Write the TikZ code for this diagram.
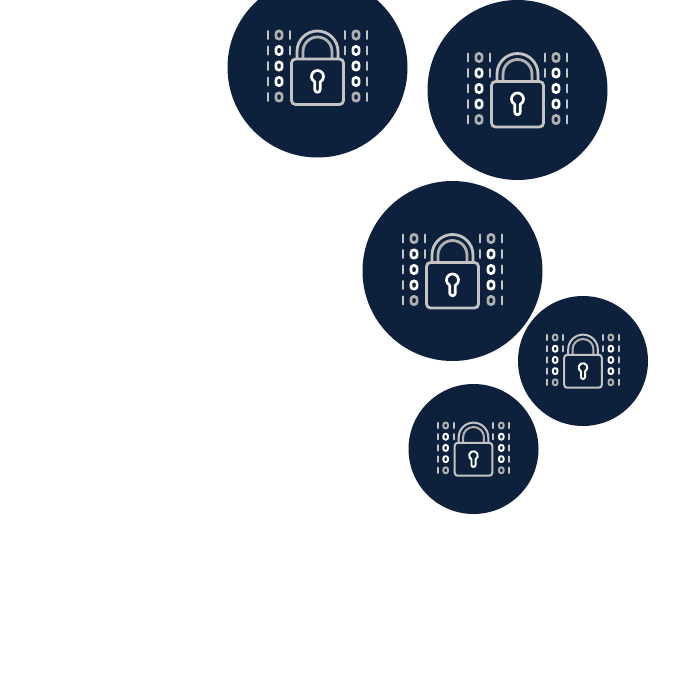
\documentclass[tikz,border=0pt]{standalone}
\definecolor{navy}{HTML}{0D213D}
\definecolor{lockgray}{HTML}{C4C4C4}
\definecolor{ringgray}{HTML}{B0B0B0}
\tikzset{
  bitbar/.style={color=lockgray,line cap=round},
}
\begin{document}
\begin{tikzpicture}[x=1pt,y=-1pt]
  \useasboundingbox (0,0) rectangle (675,675);
  \clip (0,0) rectangle (675,675);

  \foreach \cx/\cy/\r in {317.5/67.5/90, 517.5/90/90, 452.5/271/90, 583/361/65, 473.5/449/65} {
    \pgfmathsetmacro{\s}{\r/90}
    \pgfmathsetmacro{\lw}{\s*2.8}
    \pgfmathsetmacro{\bw}{\s*2.85}
    \pgfmathsetmacro{\zw}{\s*2.7}
    \pgfmathsetmacro{\rc}{\s*2.8}
    \pgfmathsetmacro{\rb}{\s*4}
    \fill[color=navy] (\cx,\cy) circle (\r);
    \begin{scope}[shift={(\cx,\cy)},scale=\s,line width=\lw pt]
      % bars at the sides
      \foreach \y in {-32.5,-17,-1.5,14,29.5} {
        \draw[bitbar,line width=\bw pt] (-49.5,\y-3.7) -- (-49.5,\y+3.7);
        \draw[bitbar,line width=\bw pt] (49.5,\y-3.7) -- (49.5,\y+3.7);
      }
      \foreach \y in {-32.5,-17} {
        \draw[bitbar,line width=\bw pt] (-27.5,\y-3.7) -- (-27.5,\y+3.7);
        \draw[bitbar,line width=\bw pt] (27.5,\y-3.7) -- (27.5,\y+3.7);
      }
      % zeros
      \foreach \x in {-38.5,38.5} {
        \foreach \y/\c in {-32.5/ringgray,-17/white,-1.5/white,14/white,29.5/ringgray} {
          \draw[color=\c,line width=\zw pt,rounded corners=\rc pt] (\x-3.1,\y-4) rectangle (\x+3.1,\y+4);
        }
      }
      % shackle
      \draw[color=lockgray] (-20.5,-9) -- (-20.5,-16) arc (180:360:20.5) -- (20.5,-9);
      \draw[color=ringgray] (-14.5,-9) -- (-14.5,-16) arc (180:360:14.5) -- (14.5,-9);
      % body
      \draw[color=lockgray,fill=navy,rounded corners=\rb pt] (-26,-8.5) rectangle (26,37);
      % keyhole
      \draw[color=white,line width=\zw pt,line join=round] (-2.8,14.3) -- (-2.8,22) arc (180:0:2.8) -- (2.8,14.3)
        arc (62:-242:6) -- cycle;
    \end{scope}
  }
\end{tikzpicture}
\end{document}
